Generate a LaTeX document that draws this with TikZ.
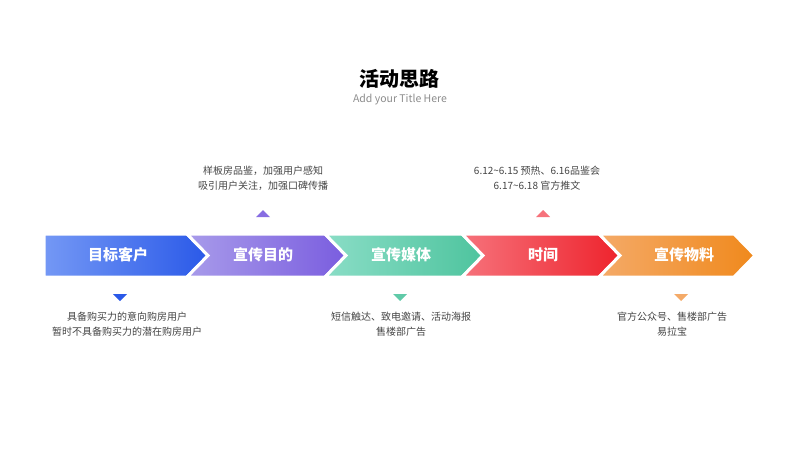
\documentclass[tikz,border=0pt]{standalone}
\usepackage{fontspec}
\setmainfont{Noto Sans CJK SC}
\usetikzlibrary{calc}
\definecolor{cA1}{HTML}{7498F5}\definecolor{cA2}{HTML}{2A59E8}
\definecolor{cB1}{HTML}{A89BEA}\definecolor{cB2}{HTML}{7A5DDF}
\definecolor{cC1}{HTML}{8ADDC6}\definecolor{cC2}{HTML}{4EC49E}
\definecolor{cD1}{HTML}{F6727B}\definecolor{cD2}{HTML}{EE232D}
\definecolor{cE1}{HTML}{F4AA68}\definecolor{cE2}{HTML}{F0891C}
\definecolor{txt}{HTML}{444444}
\tikzset{
  chev/.style={draw=white, line width=3pt, line join=miter},
  lab/.style={text=white, font=\fontsize{15}{18}\selectfont\bfseries},
  desc/.style={text=txt, align=center, font=\fontsize{10}{15}\selectfont},
}
\begin{document}
\begin{tikzpicture}[x=1pt,y=-1pt]
\useasboundingbox (0,0) rectangle (800,450);
\node[font=\fontsize{20}{24}\selectfont\bfseries] (title) at (399,79) {活动思路};
\node[text=black!45, font=\fontsize{10.5}{12}\selectfont] (sub) at (400,100) {Add your Title Here};
% chevrons
\shadedraw[chev, left color=cA1, right color=cA2] (44,234) -- (187,234) -- (208,255.5) -- (187,277) -- (44,277) -- cycle;
\shadedraw[chev, left color=cB1, right color=cB2] (187,234) -- (325,234) -- (346,255.5) -- (325,277) -- (187,277) -- (208,255.5) -- cycle;
\shadedraw[chev, left color=cC1, right color=cC2] (325,234) -- (462,234) -- (483,255.5) -- (462,277) -- (325,277) -- (346,255.5) -- cycle;
\shadedraw[chev, left color=cD1, right color=cD2] (462,234) -- (599,234) -- (620,255.5) -- (599,277) -- (462,277) -- (483,255.5) -- cycle;
\shadedraw[chev, left color=cE1, right color=cE2] (599,234) -- (734,234) -- (755,255.5) -- (734,277) -- (599,277) -- (620,255.5) -- cycle;
\node[lab] (l1) at (118,254.5) {目标客户};
\node[lab] (l2) at (263,254.5) {宣传目的};
\node[lab] (l3) at (401,254.5) {宣传媒体};
\node[lab] (l4) at (543,254.5) {时间};
\node[lab] (l5) at (684,254.5) {宣传物料};
% markers
\fill[cA2] (113,294) -- (127,294) -- (120,301) -- cycle;
\fill[cB2!90] (256,217) -- (270,217) -- (263,210) -- cycle;
\fill[cC2!90] (393,294) -- (407,294) -- (400,301) -- cycle;
\fill[cD1] (536,217) -- (550,217) -- (543,210) -- cycle;
\fill[cE1] (674,294) -- (688,294) -- (681,301) -- cycle;
% descriptions
\node[desc] (d2) at (263,178.5) {样板房品鉴，加强用户感知\\吸引用户关注，加强口碑传播};
\node[desc] (d4) at (537,178.5) {6.12\textasciitilde 6.15 预热、6.16品鉴会\\6.17\textasciitilde 6.18 官方推文};
\node[desc] (d1) at (127,324.5) {具备购买力的意向购房用户\\暂时不具备购买力的潜在购房用户};
\node[desc] (d3) at (401,324.5) {短信触达、致电邀请、活动海报\\售楼部广告};
\node[desc] (d5) at (672,324.5) {官方公众号、售楼部广告\\易拉宝};
\end{tikzpicture}
\end{document}
